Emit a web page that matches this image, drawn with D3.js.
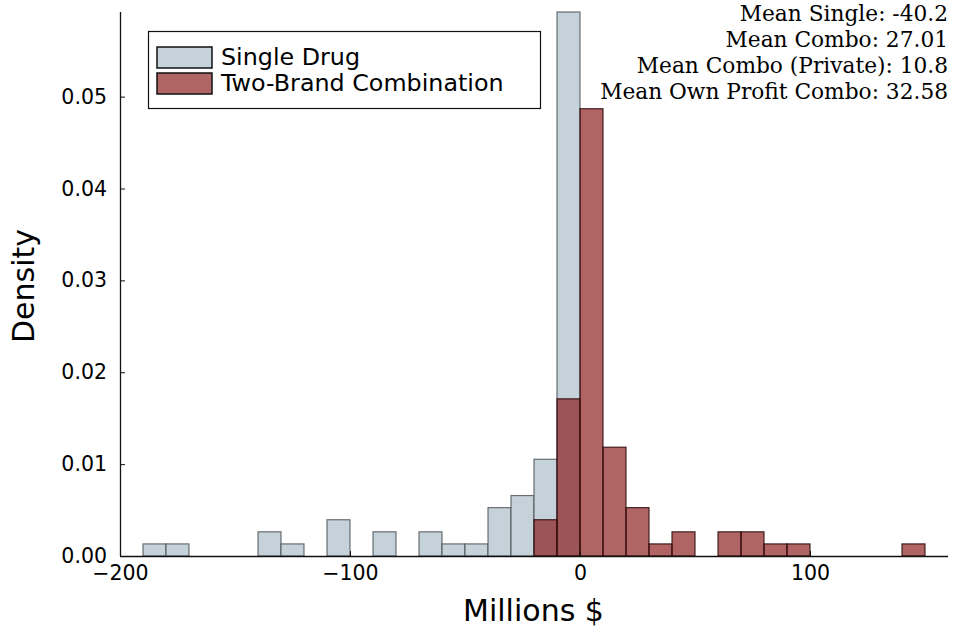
<!DOCTYPE html>
<html>
<head>
<meta charset="utf-8">
<script src="https://cdn.jsdelivr.net/npm/d3@7"></script>
<style>
html,body{margin:0;padding:0;background:#fff;}
svg{display:block;}
</style>
</head>
<body>
<svg id="chart" width="953" height="631"></svg>
<script>
// ---- data ----
const binWidth = 10;
const singleStarts = [-190,-180,-170,-160,-150,-140,-130,-120,-110,-100,-90,-80,-70,-60,-50,-40,-30,-20,-10];
const singleCounts = [1,1,0,0,0,2,1,0,3,0,2,0,2,1,1,4,5,8,45];
const comboStarts = [-20,-10,0,10,20,30,40,50,60,70,80,90,100,110,120,130,140];
const comboCounts = [3,13,37,9,4,1,2,0,2,2,1,1,0,0,0,0,1];
const xTicks = [-200,-100,0,100];
const yTicks = [0,0.01,0.02,0.03,0.04,0.05];
const seriesNames = ["Single Drug","Two-Brand Combination"];
const annotations = ["Mean Single: -40.2","Mean Combo: 27.01","Mean Combo (Private): 10.8","Mean Own Profit Combo: 32.58"];

// ---- layout ----
const svg = d3.select("#chart");
const L = 120, R = 948, T = 12, B = 556;
const x = d3.scaleLinear().domain([-200,160]).range([L,R]);

function toDensity(starts, counts){
  const n = d3.sum(counts);
  return starts.map((s,i)=>({x0:s, x1:s+binWidth, d:counts[i]/(n*binWidth)}));
}
const single = toDensity(singleStarts, singleCounts);
const combo = toDensity(comboStarts, comboCounts);
const yMax = d3.max(single.concat(combo), d=>d.d);
const y = d3.scaleLinear().domain([0,yMax]).range([B,T]);

const blueFill = "#c5d2da", blueStroke = "#4a4f52";
const redFill = "rgb(131,13,13)", redOpacity = 0.64, redStroke = "#2a0808";

// single bars
svg.append("g").selectAll("rect").data(single).join("rect")
  .attr("x", d=>x(d.x0)).attr("width", d=>x(d.x1)-x(d.x0))
  .attr("y", d=>y(d.d)).attr("height", d=>y(0)-y(d.d))
  .attr("fill", blueFill).attr("stroke", blueStroke).attr("stroke-opacity",0.8).attr("stroke-width",1.2);
// combo bars
svg.append("g").selectAll("rect").data(combo).join("rect")
  .attr("x", d=>x(d.x0)).attr("width", d=>x(d.x1)-x(d.x0))
  .attr("y", d=>y(d.d)).attr("height", d=>y(0)-y(d.d))
  .attr("fill", redFill).attr("fill-opacity", redOpacity)
  .attr("stroke", redStroke).attr("stroke-opacity",0.85).attr("stroke-width",1.2);

// axes
const fontSans = "DejaVu Sans, sans-serif";
const xAxis = svg.append("g").attr("transform",`translate(0,${B})`)
  .call(d3.axisBottom(x).tickValues(xTicks).tickSize(-5).tickPadding(9)
    .tickFormat(d=>d<0?"\u2212"+Math.abs(d):String(d)));
xAxis.select(".domain").attr("stroke","#111").attr("stroke-width",1.3).attr("d",`M${L},0.5H${R}`);
xAxis.selectAll(".tick line").attr("stroke","#111");
xAxis.selectAll("text").attr("font-family",fontSans).attr("font-size",20.5).attr("fill","#000");

const yAxis = svg.append("g").attr("transform",`translate(${L},0)`)
  .call(d3.axisLeft(y).tickValues(yTicks).tickSize(-5).tickPadding(13).tickFormat(d3.format(".2f")));
yAxis.select(".domain").attr("stroke","#111").attr("stroke-width",1.3).attr("d",`M0.5,${T}V${B}`);
yAxis.selectAll(".tick line").attr("stroke","#111");
yAxis.selectAll("text").attr("font-family",fontSans).attr("font-size",20.5).attr("fill","#000");

// axis labels
svg.append("text").attr("x",(L+R)/2-0.5).attr("y",621).attr("text-anchor","middle")
  .attr("font-family",fontSans).attr("font-size",30).text("Millions $");
svg.append("text").attr("transform",`translate(34,${(T+B)/2+2}) rotate(-90)`).attr("text-anchor","middle")
  .attr("font-family",fontSans).attr("font-size",30).text("Density");

// legend
const lg = svg.append("g");
lg.append("rect").attr("x",148.5).attr("y",31.5).attr("width",392).attr("height",77)
  .attr("fill","#fff").attr("stroke","#111").attr("stroke-width",1.2);
const legendItems = [
  {name:seriesNames[0], fill:blueFill, op:1},
  {name:seriesNames[1], fill:redFill, op:redOpacity}
];
legendItems.forEach((it,i)=>{
  const yy = 47 + i*26;
  lg.append("rect").attr("x",157).attr("y",yy).attr("width",55).attr("height",21)
    .attr("fill","#fff");
  lg.append("rect").attr("x",157).attr("y",yy).attr("width",55).attr("height",21)
    .attr("fill",it.fill).attr("fill-opacity",it.op).attr("stroke","#111").attr("stroke-width",1.5);
  lg.append("text").attr("x",221).attr("y",yy+18).attr("font-family",fontSans).attr("font-size",23.8)
    .text(it.name);
});

// annotations
const ann = svg.append("g");
annotations.forEach((t,i)=>{
  ann.append("text").attr("x",948).attr("y",21+i*26).attr("text-anchor","end")
    .attr("font-family","DejaVu Serif, Liberation Serif, serif").attr("font-size",20).text(t);
});
// fit the widest annotation line to ~348px
const nodes = ann.selectAll("text").nodes();
const w = nodes[3].getComputedTextLength();
const fs = 20*348/w;
ann.selectAll("text").attr("font-size",fs);
</script>
</body>
</html>
